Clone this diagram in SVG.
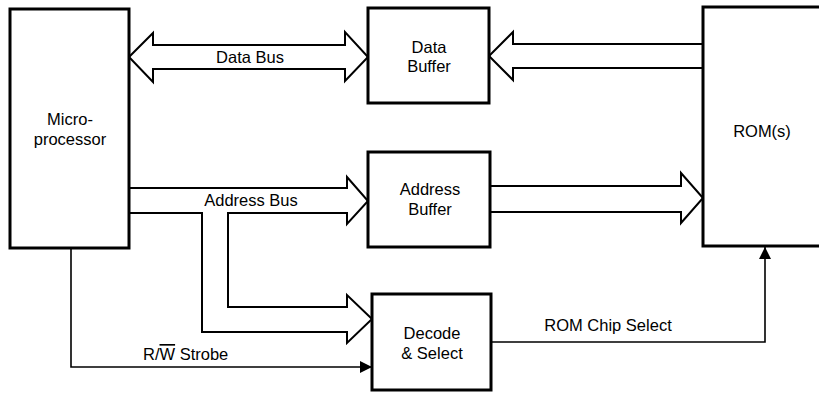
<svg xmlns="http://www.w3.org/2000/svg" width="819" height="393" viewBox="0 0 819 393">
<style>
.box{fill:#fff;stroke:#000;stroke-width:3}
.bus{fill:#fff;stroke:#000;stroke-width:2;stroke-linejoin:miter}
.sig{fill:none;stroke:#000;stroke-width:1.6}
text{font-family:"Liberation Sans",Arial,sans-serif;font-size:16.5px;fill:#000}
.c{text-anchor:middle}
</style>
<defs>
<marker id="ah" viewBox="0 0 12 12" refX="12" refY="6" markerWidth="12" markerHeight="12" markerUnits="userSpaceOnUse" orient="auto">
<path d="M0,0 L12,6 L0,12 Z" fill="#000"/>
</marker>
</defs>
<rect width="819" height="393" fill="#fff"/>
<g id="connectors">
<path id="data-bus" class="bus" d="M129,57 L153,33 L153,45 L345,45 L345,32 L368,57 L345,81 L345,69 L153,69 L153,82 Z"/>
<path id="rom-data" class="bus" d="M703,44 L513,44 L513,32 L489,56 L513,80 L513,68 L703,68"/>
<path id="address-bus" class="bus" d="M129,188 L347,188 L347,177 L368,201 L347,224 L347,213 L228,213 L228,307 L347,307 L347,295 L372,319 L347,343 L347,332 L202,332 L202,213 L129,213"/>
<path id="addr-rom" class="bus" d="M490,186 L681,186 L681,173 L703,198 L681,223 L681,212 L490,212"/>
<path id="rw-strobe" class="sig" d="M71,248 L71,367 L372,367" marker-end="url(#ah)"/>
<path id="chip-select" class="sig" d="M491,342 L765,342 L765,247" marker-end="url(#ah)"/>
</g>
<g id="microprocessor">
<rect class="box" x="10" y="9" width="119" height="239"/>
<text class="c" x="70" y="125">Micro-</text>
<text class="c" x="70" y="144.5">processor</text>
</g>
<g id="data-buffer">
<rect class="box" x="368" y="8" width="121" height="95"/>
<text class="c" x="429" y="52.5">Data</text>
<text class="c" x="429" y="72">Buffer</text>
</g>
<g id="address-buffer">
<rect class="box" x="368" y="152" width="122" height="95"/>
<text class="c" x="430" y="195">Address</text>
<text class="c" x="430" y="214.5">Buffer</text>
</g>
<g id="decode-select">
<rect class="box" x="372" y="294" width="119" height="96"/>
<text class="c" x="432" y="339">Decode</text>
<text class="c" x="432" y="358.5">&amp; Select</text>
</g>
<g id="roms">
<rect class="box" x="703" y="7" width="130" height="239"/>
<text class="c" x="762" y="137">ROM(s)</text>
</g>
<g id="labels">
<text class="c" x="250" y="63">Data Bus</text>
<text class="c" x="251" y="206">Address Bus</text>
<text x="143" y="360">R/<tspan text-decoration="overline">W</tspan> Strobe</text>
<text class="c" x="608" y="331">ROM Chip Select</text>
</g>
</svg>
